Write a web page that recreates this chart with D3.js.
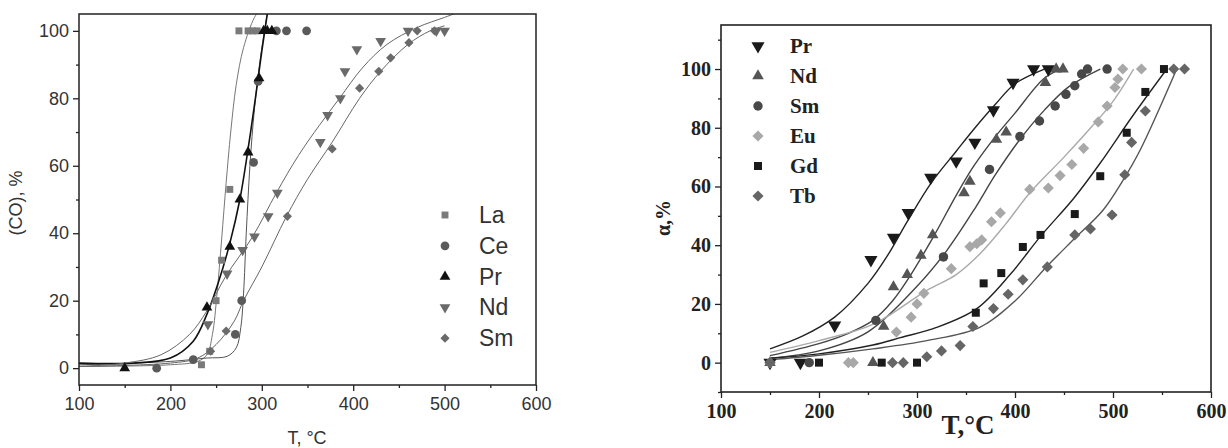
<!DOCTYPE html>
<html>
<head>
<meta charset="utf-8">
<title>CO conversion curves</title>
<script src="https://cdn.jsdelivr.net/npm/d3@7"></script>
<style>
  body { margin: 0; background: #fff; }
  svg { display: block; }
  .la text { font-family: "Liberation Sans", Arial, sans-serif; font-size: 18px; fill: #333; }
  .ra text { font-family: "Liberation Serif", "Times New Roman", serif; font-weight: bold; font-size: 20px; fill: #222; }
  .axis path, .axis line { stroke: #222; stroke-width: 1.3; fill: none; }
</style>
</head>
<body>
<script>
// ---- left chart: (CO), % vs T ----
var leftNames = ["La", "Ce", "Pr", "Nd", "Sm"];
var laPts = [[234,1],[243,5],[250,20],[256,32],[265,53],[275,100],[285,100],[290,100],[295,100]];
var cePts = [[185,0],[225,2.5],[271,10],[278,20],[291,61],[296,85],[316,100],[327,100],[349,100]];
var prPts = [[150,0],[240,18],[265,36],[276,50],[285,64],[297,86],[302,100],[306,100],[311,100]];
var ndPts = [[241,13],[262,28],[279,35],[292,39],[307,45],[317,52],[364,67],[372,75],[386,80],[391,88],[404,94.5],[430,97],[460,100],[491,100],[500,100]];
var smPts = [[244,5],[261,11],[328,45],[377,65],[407,83],[428,88],[441,92],[461,96.5],[470,100],[489,100]];

var laFit = [[100,0.5],[200,1],[230,2],[240,4],[246,10],[251,22],[256,38],[261,55],[266,70],[272,84],[280,95],[292,104],[300,107]];
var ceFit = [[100,1],[200,2],[240,3],[262,3.5],[272,6],[277,12],[280,22],[283,40],[287,60],[292,77],[298,91],[306,105],[310,110]];
var prFit = [[100,1.5],[160,1.5],[200,3],[225,8],[240,16],[252,25],[265,37],[276,50],[285,65],[293,80],[300,94],[306,105],[310,112]];
var ndFit = [[100,0.5],[150,1.5],[190,4],[221,10],[240,17],[260,27],[290,39],[316,52],[340,63],[363,72],[385,80],[410,89],[437,96],[470,101],[500,104],[520,106]];
var smFit = [[100,0.5],[200,1.5],[230,3],[250,7],[270,14],[280,20],[300,30],[327,45],[350,56],[377,67],[407,80],[430,88],[460,96],[484,100],[500,101.5]];

var xTicks = [100, 200, 300, 400, 500, 600];
var leftYTicks = [0, 20, 40, 60, 80, 100];

// ---- right chart: α, % vs T ----
var rightNames = ["Pr", "Nd", "Sm", "Eu", "Gd", "Tb"];
var rPr = [[150,0],[181,0],[216,12.7],[253,35],[276,42.6],[291,51],[314,63],[340,68.6],[359,75],[378,86],[398,95.4],[419,100],[434,100]];
var rNd = [[150,0],[255,0],[266,12.3],[276,25.8],[290,30],[304,36.5],[316,43.5],[348,57.8],[354,61.7],[381,76],[391,78.5],[431,95.4],[442,100],[449,100]];
var rSm = [[190,0],[258,14.4],[327,36],[374,65.8],[405,77],[425,82.3],[441,87.4],[452,91.4],[461,94.3],[468,98.3],[474,100],[494,100]];
var rEu = [[150,0],[230,0],[235,0],[279,10.4],[294,15.5],[300,20],[307,23.6],[335,32],[354,39.5],[361,40.5],[366,41.8],[376,48],[385,51],[415,59],[434,59.5],[446,63.7],[458,67.5],[470,73],[485,82],[494,87.4],[502,93.7],[505,96.6],[510,100],[529,100]];
var rGd = [[200,0],[264,0],[300,0],[360,17],[368,27],[386,30.5],[408,39.4],[426,43.5],[461,50.6],[487,63.5],[514,78.3],[533,92.2],[552,100]];
var rTb = [[150,0],[275,0],[286,0],[310,2],[325,4],[344,5.8],[357,12.3],[378,18.4],[393,23.3],[408,28.2],[433,32.6],[461,43.5],[477,45.5],[499,50.3],[512,64],[519,75],[533,85.7],[562,100],[573,100]];

var rPrFit = [[150,4.7],[183,9],[216,15.5],[250,27],[270,36.5],[290,48],[314,61],[340,72],[358,79.5],[380,88],[400,95],[430,100]];
var rNdFit = [[150,2.4],[200,6.5],[230,10],[255,14.4],[275,21],[290,28],[317,43],[340,57],[358,67],[380,77],[400,85],[429,96.6],[446,100]];
var rSmFit = [[150,1.5],[200,4],[250,10.5],[300,26],[330,38],[360,53],[380,64],[405,76],[430,86],[455,94],[487,100]];
var rEuFit = [[150,3.5],[200,7.5],[255,13],[310,24.6],[340,30],[364,37],[390,47],[415,57.8],[450,70],[480,81],[500,89],[521,100]];
var rGdFit = [[150,1.5],[200,3],[255,6],[283,8.5],[320,12],[361,18.4],[395,30],[426,43],[460,56],[487,68],[520,84],[555,100]];
var rTbFit = [[150,1],[200,2.5],[255,4.7],[310,7.5],[364,12],[400,21],[432,32.6],[460,42],[490,52],[510,62],[528,72.6],[565,100]];

var rightYTicks = [0, 20, 40, 60, 80, 100];

var svg = d3.select("body").append("svg").attr("width", 1228).attr("height", 448);

var sym = {
  square: d3.symbolSquare, circle: d3.symbolCircle, up: d3.symbolTriangle,
  down: d3.symbolTriangle, diamond: d3.symbolSquare
};
function marker(g, shape, size, color, x, y) {
  var rot = shape == "down" ? " rotate(180)" : shape == "diamond" ? " rotate(45)" : "";
  g.append("path")
    .attr("d", d3.symbol().type(sym[shape]).size(size)())
    .attr("transform", "translate(" + x + "," + y + ")" + rot)
    .attr("fill", color);
}

// ================= LEFT =================
var x1 = d3.scaleLinear().domain([100, 600]).range([79, 536]);
var y1 = d3.scaleLinear().domain([-5, 105]).range([385, 14]);

var gl = svg.append("g");
gl.append("clipPath").attr("id", "clipL").append("rect")
  .attr("x", 79).attr("y", 14).attr("width", 457).attr("height", 371);

var leftSeries = [
  {pts: laPts, fit: laFit, shape: "square", size: 48, color: "#7a7a7a", line: "#777", lw: 1},
  {pts: cePts, fit: ceFit, shape: "circle", size: 60, color: "#5a5a5a", line: "#555", lw: 1},
  {pts: prPts, fit: prFit, shape: "up", size: 50, color: "#111", line: "#111", lw: 1.6},
  {pts: ndPts, fit: ndFit, shape: "down", size: 50, color: "#6a6a6a", line: "#666", lw: 1},
  {pts: smPts, fit: smFit, shape: "diamond", size: 42, color: "#6a6a6a", line: "#666", lw: 1}
];

var line1 = d3.line().x(function(d) { return x1(d[0]); }).y(function(d) { return y1(d[1]); })
  .curve(d3.curveCatmullRom.alpha(0.5));

leftSeries.forEach(function(s) {
  gl.append("path").datum(s.fit).attr("d", line1).attr("clip-path", "url(#clipL)")
    .attr("fill", "none").attr("stroke", s.line).attr("stroke-width", s.lw);
});
leftSeries.forEach(function(s) {
  s.pts.forEach(function(d) { marker(gl, s.shape, s.size, s.color, x1(d[0]), y1(d[1])); });
});

gl.append("rect").attr("x", 79).attr("y", 14).attr("width", 457).attr("height", 371)
  .attr("fill", "none").attr("stroke", "#222").attr("stroke-width", 1.5);

gl.append("g").attr("class", "axis la").attr("transform", "translate(0,385)")
  .call(d3.axisBottom(x1).tickValues(xTicks).tickSize(6).tickPadding(6))
  .call(function(g) { g.select(".domain").remove(); });
gl.append("g").attr("class", "axis la").attr("transform", "translate(0,385)")
  .call(d3.axisBottom(x1).tickValues([150, 250, 350, 450, 550]).tickSize(3).tickFormat(""))
  .call(function(g) { g.select(".domain").remove(); });
gl.append("g").attr("class", "axis la").attr("transform", "translate(79,0)")
  .call(d3.axisLeft(y1).tickValues(leftYTicks).tickSize(6).tickPadding(4))
  .call(function(g) { g.select(".domain").remove(); });
gl.append("g").attr("class", "axis la").attr("transform", "translate(79,0)")
  .call(d3.axisLeft(y1).tickValues([10, 30, 50, 70, 90]).tickSize(3).tickFormat(""))
  .call(function(g) { g.select(".domain").remove(); });

gl.append("text").attr("x", 307).attr("y", 444).attr("text-anchor", "middle")
  .style("font-family", "Liberation Sans, Arial, sans-serif").style("font-size", "18px").style("fill", "#333")
  .text("T, °C");
gl.append("text").attr("transform", "translate(22,203) rotate(-90)").attr("text-anchor", "middle")
  .style("font-family", "Liberation Sans, Arial, sans-serif").style("font-size", "18px").style("fill", "#333")
  .text("(CO), %");

// legend
leftSeries.forEach(function(s, i) {
  var yy = 215 + i * 30.8;
  marker(gl, s.shape, s.size, s.color, 445, yy);
  gl.append("text").attr("x", 479).attr("y", yy + 8)
    .style("font-family", "Liberation Sans, Arial, sans-serif").style("font-size", "23px").style("fill", "#333")
    .text(leftNames[i]);
});

// ================= RIGHT =================
var x2 = d3.scaleLinear().domain([100, 600]).range([721, 1211]);
var y2 = d3.scaleLinear().domain([-10, 115]).range([392, 25]);

var gr = svg.append("g");
var rightSeries = [
  {pts: rPr, fit: rPrFit, shape: "down", size: 75, color: "#1a1a1a", line: "#222"},
  {pts: rNd, fit: rNdFit, shape: "up", size: 58, color: "#555", line: "#444"},
  {pts: rSm, fit: rSmFit, shape: "circle", size: 70, color: "#484848", line: "#444"},
  {pts: rEu, fit: rEuFit, shape: "diamond", size: 62, color: "#a8a8a8", line: "#aaa"},
  {pts: rGd, fit: rGdFit, shape: "square", size: 64, color: "#1a1a1a", line: "#222"},
  {pts: rTb, fit: rTbFit, shape: "diamond", size: 62, color: "#656565", line: "#555"}
];

var line2 = d3.line().x(function(d) { return x2(d[0]); }).y(function(d) { return y2(d[1]); })
  .curve(d3.curveCatmullRom.alpha(0.5));

rightSeries.forEach(function(s) {
  gr.append("path").datum(s.fit).attr("d", line2)
    .attr("fill", "none").attr("stroke", s.line).attr("stroke-width", 1.4);
});
rightSeries.forEach(function(s) {
  s.pts.forEach(function(d) { marker(gr, s.shape, s.size, s.color, x2(d[0]), y2(d[1])); });
});

gr.append("rect").attr("x", 721).attr("y", 25).attr("width", 490).attr("height", 367)
  .attr("fill", "none").attr("stroke", "#222").attr("stroke-width", 1.6);

gr.append("g").attr("class", "axis ra").attr("transform", "translate(0,392)")
  .call(d3.axisBottom(x2).tickValues(xTicks).tickSize(6).tickPadding(6))
  .call(function(g) { g.select(".domain").remove(); });
gr.append("g").attr("class", "axis ra").attr("transform", "translate(0,392)")
  .call(d3.axisBottom(x2).tickValues([150, 250, 350, 450, 550]).tickSize(3).tickFormat(""))
  .call(function(g) { g.select(".domain").remove(); });
gr.append("g").attr("class", "axis ra").attr("transform", "translate(721,0)")
  .call(d3.axisLeft(y2).tickValues(rightYTicks).tickSize(6).tickPadding(4))
  .call(function(g) { g.select(".domain").remove(); });
gr.append("g").attr("class", "axis ra").attr("transform", "translate(721,0)")
  .call(d3.axisLeft(y2).tickValues([-10, 10, 30, 50, 70, 90, 110]).tickSize(3).tickFormat(""))
  .call(function(g) { g.select(".domain").remove(); });

gr.append("text").attr("x", 968).attr("y", 434).attr("text-anchor", "middle")
  .style("font-family", "Liberation Serif, Times New Roman, serif").style("font-weight", "bold")
  .style("font-size", "27px").style("fill", "#222")
  .text("T,°C");
gr.append("text").attr("transform", "translate(670,218) rotate(-90)").attr("text-anchor", "middle")
  .style("font-family", "Liberation Serif, Times New Roman, serif").style("font-weight", "bold")
  .style("font-size", "20px").style("fill", "#222")
  .text("α,%");

rightSeries.forEach(function(s, i) {
  var yy = 46 + i * 30;
  marker(gr, s.shape, s.size, s.color, 758, yy);
  gr.append("text").attr("x", 790).attr("y", yy + 7)
    .style("font-family", "Liberation Serif, Times New Roman, serif").style("font-weight", "bold")
    .style("font-size", "21px").style("fill", "#222")
    .text(rightNames[i]);
});
</script>
</body>
</html>
